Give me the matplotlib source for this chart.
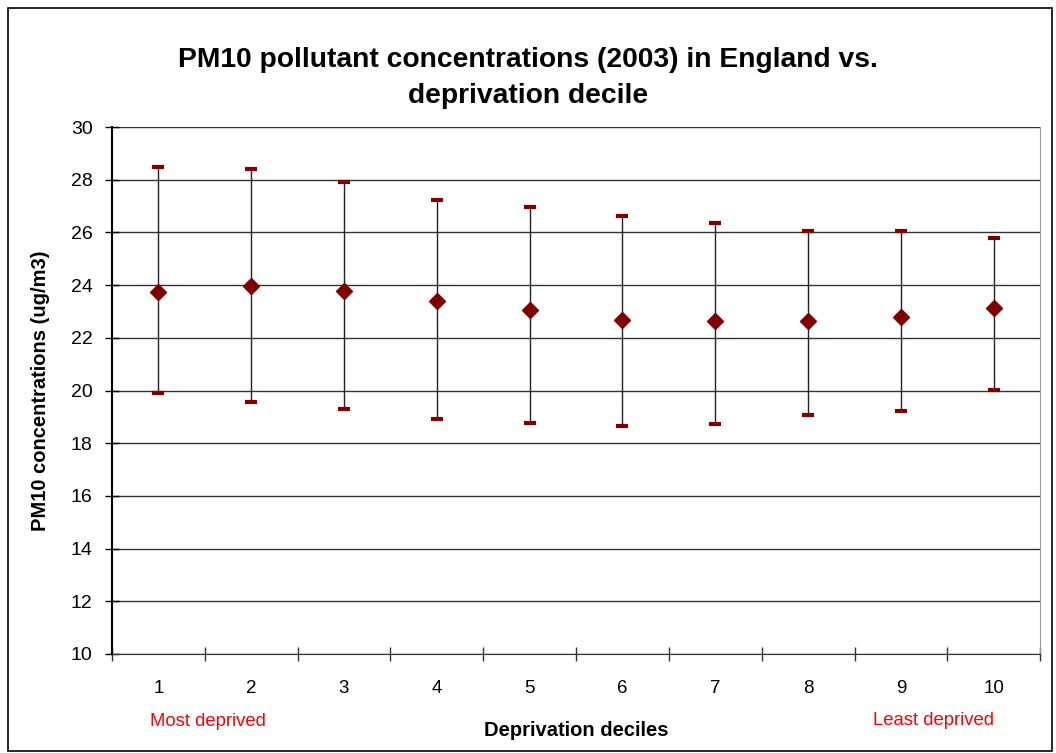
import matplotlib.pyplot as plt
import numpy as np
from matplotlib.patches import Rectangle

plt.rcParams['font.family'] = ['Liberation Sans', 'DejaVu Sans']

# PM10 by deprivation decile: mean with lower / upper range
deciles = [1, 2, 3, 4, 5, 6, 7, 8, 9, 10]
pm10_mean = [23.72, 23.98, 23.79, 23.40, 23.05, 22.68, 22.64, 22.64, 22.79, 23.12]
pm10_low = [19.89, 19.55, 19.30, 18.92, 18.77, 18.65, 18.72, 19.07, 19.23, 20.01]
pm10_high = [28.48, 28.41, 27.90, 27.23, 26.96, 26.62, 26.36, 26.05, 26.05, 25.79]

dred = '#800000'

fig = plt.figure(figsize=(10.56, 7.53), dpi=100)
ax = fig.add_axes([0.106, 0.1315, 0.879, 0.6998])

x = np.array(deciles)
ax.vlines(x, pm10_low, pm10_high, color='#222222', lw=1, zorder=3)
ax.plot(x, pm10_low, ls='none', marker='_', ms=9, mew=3, color=dred, zorder=4)
ax.plot(x, pm10_high, ls='none', marker='_', ms=9, mew=3, color=dred, zorder=4)
ax.plot(x, pm10_mean, ls='none', marker='D', ms=8, color=dred, zorder=5)

ax.set_xlim(0.5, 10.5)
ax.set_ylim(10, 30)
ax.set_yticks(np.arange(10, 31, 2))
ax.yaxis.grid(True, color='#333333', lw=1)
ax.set_axisbelow(True)

# category labels centred, tick marks between categories
ax.set_xticks(np.arange(0.5, 10.6, 1))
ax.set_xticklabels([])
ax.set_xticks(x, minor=True)
ax.set_xticklabels([str(d) for d in deciles], minor=True)
ax.tick_params(axis='x', which='minor', length=0, pad=19, labelsize=13.5)
ax.tick_params(axis='x', which='major', length=10, direction='inout', width=1, color='#333333')
ax.tick_params(axis='y', length=10, direction='inout', width=1, labelsize=14, pad=9)

ax.spines['top'].set_visible(False)
ax.spines['right'].set_color('#999999')
ax.spines['left'].set_linewidth(1.5)
ax.spines['bottom'].set_color('#333333')

ax.set_ylabel('PM10 concentrations (ug/m3)', fontsize=14.5, fontweight='bold', labelpad=15)
ax.set_xlabel('Deprivation deciles', fontsize=14.5, fontweight='bold', labelpad=17)
fig.text(0.5, 0.896, 'PM10 pollutant concentrations (2003) in England vs.\ndeprivation decile',
         ha='center', va='center', fontsize=20.3, fontweight='bold', linespacing=1.5)

fig.text(0.197, 0.042, 'Most deprived', color='red', fontsize=13.3, ha='center', va='center')
fig.text(0.884, 0.043, 'Least deprived', color='red', fontsize=13.3, ha='center', va='center')

fig.add_artist(Rectangle((0.008, 0.003), 0.988, 0.986, transform=fig.transFigure,
                         fill=False, edgecolor='black', lw=1.2))

fig.savefig('out.png', dpi=100)
